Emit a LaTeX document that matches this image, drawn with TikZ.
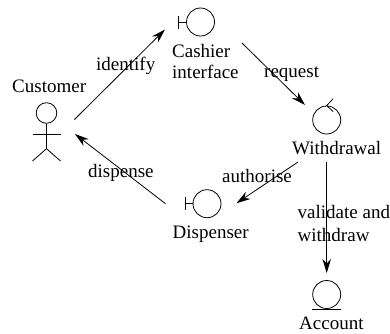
\documentclass[tikz,border=0pt]{standalone}
\usepackage{fontspec}
\setmainfont{Liberation Serif}
\usetikzlibrary{arrows.meta,calc}

\begin{document}
\begin{tikzpicture}[x=1pt,y=-1pt,
  icon/.style={draw,circle,line width=0.8pt,inner sep=0pt,minimum size=28pt},
  head/.style={draw,circle,line width=0.8pt,inner sep=0pt,minimum size=20.6pt},
  part/.style={line width=0.8pt},
  word/.style={anchor=base west,inner sep=0pt,font=\fontsize{19}{21}\selectfont,align=left},
  link/.style={line width=0.8pt,-{Stealth[length=14pt,width=8.5pt]}}]
\useasboundingbox (0,0) rectangle (390,333);
\node[head] (customer) at (46.5,113) {};
\path (customer)
    to +(154,-91) node[icon] (cashier) {}
    to +(280.2,7) node[icon] (withdrawal) {}
    to +(280.2,181.5) node[icon] (account) {}
    to +(160.5,90.7) node[icon] (dispenser) {}
    ;
% actor
\draw[part] (customer.south) -- +(0,25) coordinate (hip);
\draw[part] (32.5,134) -- (60.5,134);
\draw[part] (32.5,161) -- (hip) -- (60.5,161);
% stereotypes
\draw[part] (cashier.west) -- +(-7.5,0) coordinate (cashierbar) (cashierbar) ++(0,-6.5) -- ++(0,13);
\draw[part] (dispenser.west) -- +(-7.5,0) coordinate (dispenserbar) (dispenserbar) ++(0,-6.5) -- ++(0,13);
\draw[part] ($(withdrawal.north)+(6.5,-7)$) -- (withdrawal.north) -- ($(withdrawal.north)+(6.5,6)$);
\draw[part] ($(account.south)+(-14.5,0)$) -- ($(account.south)+(14.5,0)$);
% names
\node[word] (customerlabel) at (12,92.5) {Customer};
\node[word] (cashierlabel) at (172,57) {Cashier};
\node[word] (interfacelabel) at (172,78) {interface};
\node[word] (withdrawallabel) at (292,154) {Withdrawal};
\node[word] (dispenserlabel) at (172.5,238) {Dispenser};
\node[word] (accountlabel) at (299,329) {Account};
% connector ends
\coordinate (customerout) at ($(customer)+(28,6.5)$);
\coordinate (customerin) at ($(customer)+(28.5,21)$);
\coordinate (cashierin) at ($(cashier)+(-35.5,7.5)$);
\coordinate (cashierout) at ($(cashier)+(41.5,21)$);
\coordinate (withdrawalin) at ($(withdrawal)+(-21.7,-15)$);
\coordinate (withdrawalleft) at ($(withdrawal)+(-28.7,42)$);
\coordinate (withdrawaldown) at ($(withdrawal)+(0,42)$);
\coordinate (dispenserin) at ($(dispenser)+(29.5,-0.5)$);
\coordinate (dispenserout) at ($(dispenser)+(-41.5,0)$);
\coordinate (accountin) at ($(account)+(0,-21.5)$);
% messages
\path (customerout) edge[link] (cashierin);
\path (cashierout) edge[link] (withdrawalin);
\path (withdrawalleft) edge[link] (dispenserin);
\path (withdrawaldown) edge[link] (accountin);
\path (dispenserout) edge[link] (customerin);
\node[word] (identifylabel) at (96,70) {identify};
\node[word] (requestlabel) at (264,77) {request};
\node[word] (authoriselabel) at (222,182) {authorise};
\node[word] (validatelabel) at (297.5,218) {validate and};
\node[word] (withdrawlabel) at (297.5,241.5) {withdraw};
\node[word] (dispenselabel) at (88,177) {dispense};
\end{tikzpicture}
\end{document}
